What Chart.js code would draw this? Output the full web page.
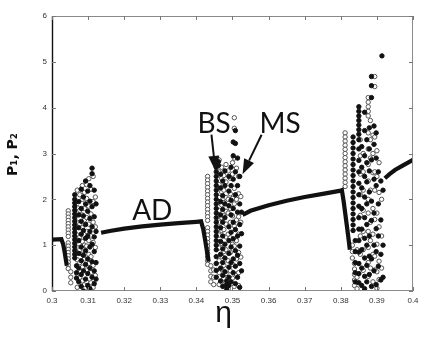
<!DOCTYPE html>
<html><head><meta charset="utf-8">
<script src="https://cdn.jsdelivr.net/npm/chart.js@4"></script>
<style>html,body{margin:0;padding:0;background:#fff}canvas{display:block}</style>
</head><body>
<canvas id="c" width="442" height="345"></canvas>
<script>
// ---- tick labels ----
const xTickValues = [0.30,0.31,0.32,0.33,0.34,0.35,0.36,0.37,0.38,0.39,0.40];
const xTickLabels = ['0.3','0.31','0.32','0.33','0.34','0.35','0.36','0.37','0.38','0.39','0.4'];
const yTickValues = [0,1,2,3,4,5,6];

// ---- amplitude-death branch (solid line), segments incl. the dips ----
const adBranch1 = [[0.3,1.12],[0.3026,1.13],[0.3031,1.02],[0.3035,0.85],[0.3038,0.7],[0.3041,0.55]];
const adBranch2 = [[0.3136,1.27],[0.316,1.31],[0.32,1.36],[0.325,1.41],[0.33,1.45],[0.335,1.48],[0.34,1.51],[0.3413,1.52],[0.3419,1.35],[0.3424,1.12],[0.3429,0.88],[0.3434,0.64]];
const adBranch3 = [[0.3528,1.66],[0.355,1.75],[0.36,1.87],[0.365,1.97],[0.37,2.05],[0.375,2.12],[0.38,2.19],[0.3803,2.2],[0.3808,1.95],[0.3813,1.65],[0.3818,1.35],[0.3822,1.1],[0.3825,0.9]];
const adBranch4 = [[0.3922,2.46],[0.3935,2.55],[0.395,2.64],[0.397,2.73],[0.4,2.86]];

// ---- P1 (filled) : [eta, [values]] columns ----
const p1Cols = [
  [0.3063,[2.1,2.0,1.92,1.84,1.76,1.68,1.6,1.52,1.44,1.36,1.28,1.2,1.12,1.04,0.96,0.88,0.8,0.72]],
  [0.3068,[0.55,0.4,0.28]],
  [0.3074,[1.95,1.66,1.38,1.1,0.82,0.5,0.2]],
  [0.3081,[2.22,1.8,1.52,1.24,0.96,0.66,0.36,0.1]],
  [0.3087,[2.05,1.64,1.32,0.78,0.44,0.0]],
  [0.3093,[2.4,1.9,1.45,1.15,0.88,0.58,0.26]],
  [0.3099,[2.18,1.74,1.2,0.7,0.38,0.12]],
  [0.3105,[2.3,1.96,1.58,1.3,0.96,0.5,0.05]],
  [0.3111,[2.68,2.56,1.84,1.4,1.02,0.64,0.3]],
  [0.3117,[2.2,1.62,1.18,0.86,0.44,0.16]],
  [0.3122,[1.9,1.3,0.62,0.26]],
  [0.3455,[2.7,2.6,2.5,2.4,2.3,2.2,2.1,2.0,1.9,1.8,1.7,1.6,1.5,1.4,1.3,1.2,1.1,1.0,0.9,0.75,0.6,0.45,0.3]],
  [0.3461,[2.82,2.74]],
  [0.3467,[2.55,2.25,1.95,1.66,1.38,1.08,0.8,0.5,0.22]],
  [0.3473,[2.4,2.08,1.78,1.5,1.2,0.92,0.62,0.34,0.1]],
  [0.3479,[2.62,2.3,1.9,1.6,1.02,0.72,0.42]],
  [0.3484,[0.22,0.15,0.08,0.02]],
  [0.3490,[2.5,2.18,1.86,1.4,1.1,0.82,0.52,0.3,0.12]],
  [0.3496,[2.7,2.3,1.98,1.66,1.28,0.96,0.62,0.2]],
  [0.3502,[3.25,2.95,2.44,1.8,1.5,1.14,0.7,0.4]],
  [0.3508,[3.5,3.22,2.6,2.1,1.34,0.88,0.54,0.16]],
  [0.3514,[2.9,2.3,1.72,1.2,0.78,0.3]],
  [0.3520,[2.5,1.9,1.45,0.98,0.6,0.08]],
  [0.3525,[1.72,1.25,0.44]],
  [0.3834,[3.36,3.24,3.12,3.0,2.88,2.76,2.64,2.52,2.4,2.28,2.16,2.04,1.92,1.8,1.68,1.56,1.44,1.32]],
  [0.3840,[1.1,0.86,0.62,0.4,0.2]],
  [0.3850,[4.02,3.92,3.82,3.72,3.62,3.52,3.42,3.3,3.1,2.85,2.6,2.35,2.1,1.85,1.6,1.35,1.1,0.85,0.6,0.38,0.18]],
  [0.3858,[3.15,2.7,2.25,1.8,1.35,0.9,0.5,0.12]],
  [0.3866,[3.9,3.5,2.95,2.5,2.05,1.6,1.15,0.72,0.32,0.05,0.0]],
  [0.3872,[3.3,2.8,2.38,1.9,1.45,1.0,0.56,0.2]],
  [0.3879,[3.56,3.1,2.62,2.16,1.2,0.76,0.36]],
  [0.3885,[4.68,4.48,4.22,2.86,1.96,1.54,0.7,0.1]],
  [0.3892,[3.6,3.2,2.44,1.7,1.0,0.44]],
  [0.3898,[3.45,2.9,2.3,1.36,0.86,0.14]],
  [0.3904,[2.6,1.9,1.2,0.54]],
  [0.3911,[2.4,1.55,0.8,0.24]],
  [0.3914,[5.13]],
  [0.3917,[2.2,1.0,0.3]]
];

// ---- P2 (open) columns ----
const p2Cols = [
  [0.3045,[1.75,1.68,1.61,1.54,1.47,1.4,1.33,1.26,1.19,1.05,0.98,0.91,0.84,0.77,0.7,0.63,0.56,0.49]],
  [0.3052,[0.42,0.3,0.18]],
  [0.3070,[2.2,1.82,1.5,1.22,0.95,0.68,0.35,0.08]],
  [0.3077,[2.1,1.76,1.46,1.18,0.9,0.62,0.3]],
  [0.3084,[2.3,2.0,1.66,1.38,1.08,0.8,0.52,0.22]],
  [0.3090,[2.15,1.8,1.55,1.0,0.7,0.14]],
  [0.3096,[2.32,2.02,1.6,1.3,0.98,0.46,0.2]],
  [0.3102,[2.45,1.85,1.46,1.1,0.8,0.6,0.03]],
  [0.3108,[2.22,1.68,1.2,0.75,0.4,0.18]],
  [0.3114,[2.5,1.95,1.5,1.06,0.56,0.08]],
  [0.3120,[2.05,1.4,0.95,0.34]],
  [0.3431,[2.5,2.42,2.34,2.26,2.18,2.1,2.02,1.94,1.86,1.78,1.7,1.62,1.54,1.38,1.3,1.22,1.14,1.06,0.98,0.9,0.82,0.74,0.66,0.58]],
  [0.3440,[0.55,0.44,0.32,0.2]],
  [0.3448,[0.46,0.3,0.14]],
  [0.3463,[2.86,2.6,2.32,2.04,1.76,1.5,1.22,0.94,0.66,0.4,0.14]],
  [0.3470,[2.7,2.46,2.16,1.88,1.6,1.32,1.04,0.76,0.48,0.2]],
  [0.3476,[2.52,2.2,1.93,1.64,1.34,0.86,0.56,0.28]],
  [0.3482,[2.76,2.38,2.04,1.74,1.46,1.18,0.9,0.38]],
  [0.3488,[2.62,2.0,1.7,1.24,0.66,0.04]],
  [0.3494,[2.46,2.12,1.8,1.5,1.16,0.84,0.44]],
  [0.3500,[2.8,2.55,2.02,1.64,1.02,0.58,0.28]],
  [0.3505,[3.78,3.55,2.9,2.24,1.9,1.42,0.98,0.1]],
  [0.3511,[2.68,2.0,1.55,1.1,0.7,0.36]],
  [0.3517,[2.5,2.12,1.62,1.24,0.84,0.4,0.12]],
  [0.3523,[2.06,1.5,0.74]],
  [0.3812,[3.45,3.36,3.27,3.18,3.09,3.0,2.91,2.82,2.73,2.64,2.55,2.46,2.37,2.28]],
  [0.3832,[1.0,0.86,0.72]],
  [0.3838,[0.6,0.48,0.36,0.24,0.12]],
  [0.3845,[0.9,0.3,0.05]],
  [0.3854,[3.3,2.95,2.55,2.1,1.65,1.2,0.8]],
  [0.3862,[3.0,2.6,2.2,1.76,1.3,0.9,0.45]],
  [0.3876,[4.22,4.12,4.02,3.92,3.82,3.45,3.1,2.76,2.4,2.0,1.7,1.3,0.95,0.62,0.32]],
  [0.3882,[3.72,3.3,2.9,2.2,1.5,1.1,0.5]],
  [0.3889,[3.4,3.0,2.58,1.8,1.24,0.8,0.2]],
  [0.3894,[4.68,4.46,3.36,2.6,2.2,1.56,0.76,0.46]],
  [0.3900,[3.06,2.5,1.7,1.02,0.42,0.06]],
  [0.3906,[2.8,2.15,1.4,0.65,0.25]],
  [0.3913,[2.0,1.2,0.5]]
];

// ---- annotations (data coordinates) ----
const labelAD = {text:'AD', x:0.3222, y:1.55};
const labelBS = {text:'BS', x:0.3403, y:3.45};
const labelMS = {text:'MS', x:0.3575, y:3.45};
const arrowBS = {from:[0.34417,3.41], to:[0.34528,2.62]};
const arrowMS = {from:[0.35806,3.41], to:[0.35278,2.55]};

const toXY = arr => arr.map(p => ({x:p[0], y:p[1]}));
const colsToXY = cols => cols.flatMap(c => c[1].map(v => ({x:c[0], y:v})));

const lineDS = (d) => ({type:'line', data:toXY(d), borderColor:'#111', borderWidth:4.2, pointRadius:0, tension:0, fill:false, order:0});

const decor = {
  id:'decor',
  afterDatasetsDraw(chart){
    const {ctx, chartArea:{left,right,top,bottom}, scales:{x,y}} = chart;
    ctx.save();
    ctx.lineWidth = 1;
    ctx.strokeStyle = '#8a8a8a';
    ctx.beginPath();
    ctx.moveTo(left, top+0.5); ctx.lineTo(right, top+0.5);
    ctx.moveTo(right-0.5, top); ctx.lineTo(right-0.5, bottom);
    ctx.moveTo(left, bottom-0.5); ctx.lineTo(right, bottom-0.5);
    ctx.stroke();
    ctx.strokeStyle = '#111'; ctx.lineWidth = 1.4;
    ctx.beginPath(); ctx.moveTo(left+0.5, top); ctx.lineTo(left+0.5, bottom); ctx.stroke();
    ctx.lineWidth = 1; ctx.strokeStyle = '#777';
    ctx.beginPath();
    xTickValues.forEach(v => {
      const px = Math.round(x.getPixelForValue(v)) + 0.5;
      ctx.moveTo(px, bottom); ctx.lineTo(px, bottom-4);
      ctx.moveTo(px, top); ctx.lineTo(px, top+4);
    });
    yTickValues.forEach(v => {
      const py = Math.round(y.getPixelForValue(v)) + 0.5;
      ctx.moveTo(left, py); ctx.lineTo(left+4, py);
      ctx.moveTo(right, py); ctx.lineTo(right-4, py);
    });
    ctx.stroke();
    ctx.fillStyle = '#111';
    ctx.font = '28px Lato, "Liberation Sans", sans-serif';
    ctx.textAlign = 'left'; ctx.textBaseline = 'alphabetic';
    [labelAD, labelBS, labelMS].forEach(l => ctx.fillText(l.text, x.getPixelForValue(l.x), y.getPixelForValue(l.y)));
    [arrowBS, arrowMS].forEach(a => {
      const x0 = x.getPixelForValue(a.from[0]), y0 = y.getPixelForValue(a.from[1]);
      const x1 = x.getPixelForValue(a.to[0]), y1 = y.getPixelForValue(a.to[1]);
      const ang = Math.atan2(y1-y0, x1-x0);
      const L = 15, W = 5.5;
      const bx = x1 - L*Math.cos(ang), by = y1 - L*Math.sin(ang);
      ctx.strokeStyle = '#111'; ctx.lineWidth = 2;
      ctx.beginPath(); ctx.moveTo(x0,y0); ctx.lineTo(bx,by); ctx.stroke();
      ctx.beginPath();
      ctx.moveTo(x1,y1);
      ctx.lineTo(bx + W*Math.sin(ang), by - W*Math.cos(ang));
      ctx.lineTo(bx - W*Math.sin(ang), by + W*Math.cos(ang));
      ctx.closePath(); ctx.fill();
    });
    ctx.fillStyle = '#111';
    ctx.font = '30px "Liberation Sans", "DejaVu Sans", sans-serif';
    ctx.textAlign = 'center';
    ctx.fillText('η', (left+right)/2 - 9, bottom + 31);
    ctx.save();
    ctx.translate(13, (top+bottom)/2 + 1);
    ctx.rotate(-Math.PI/2);
    ctx.font = 'bold 14px "DejaVu Sans", sans-serif';
    ctx.textBaseline = 'middle';
    ctx.fillText('P\u2081, P\u2082', 0, 0);
    ctx.restore();
    ctx.restore();
  }
};

new Chart(document.getElementById('c'), {
  type:'scatter',
  data:{datasets:[
    lineDS(adBranch1), lineDS(adBranch2), lineDS(adBranch3), lineDS(adBranch4),
    {label:'P2', data:colsToXY(p2Cols), pointRadius:2.2, pointBorderWidth:1, pointBorderColor:'#555', pointBackgroundColor:'#fff', order:2},
    {label:'P1', data:colsToXY(p1Cols), pointRadius:2.2, pointBorderWidth:1, pointBorderColor:'#111', pointBackgroundColor:'#111', order:1}
  ]},
  options:{
    responsive:false, animation:false, devicePixelRatio:1,
    layout:{padding:{top:16, right:29, left:0, bottom:0}},
    plugins:{legend:{display:false}, tooltip:{enabled:false}},
    scales:{
      x:{type:'linear', min:0.3, max:0.4,
         afterBuildTicks:s => { s.ticks = xTickValues.map(v => ({value:v})); },
         afterFit:s => { s.height = 54; },
         grid:{display:false, drawTicks:false}, border:{display:false},
         ticks:{padding:5, color:'#333', font:{size:8, family:'"Liberation Sans", sans-serif'},
                callback:(v, i) => xTickLabels[i]}},
      y:{type:'linear', min:0, max:6,
         afterBuildTicks:s => { s.ticks = yTickValues.map(v => ({value:v})); },
         afterFit:s => { s.width = 52; },
         grid:{display:false, drawTicks:false}, border:{display:false},
         ticks:{padding:5, color:'#333', font:{size:8, family:'"Liberation Sans", sans-serif'},
                callback:v => String(v)}}
    }
  },
  plugins:[decor]
});
</script>
</body></html>
